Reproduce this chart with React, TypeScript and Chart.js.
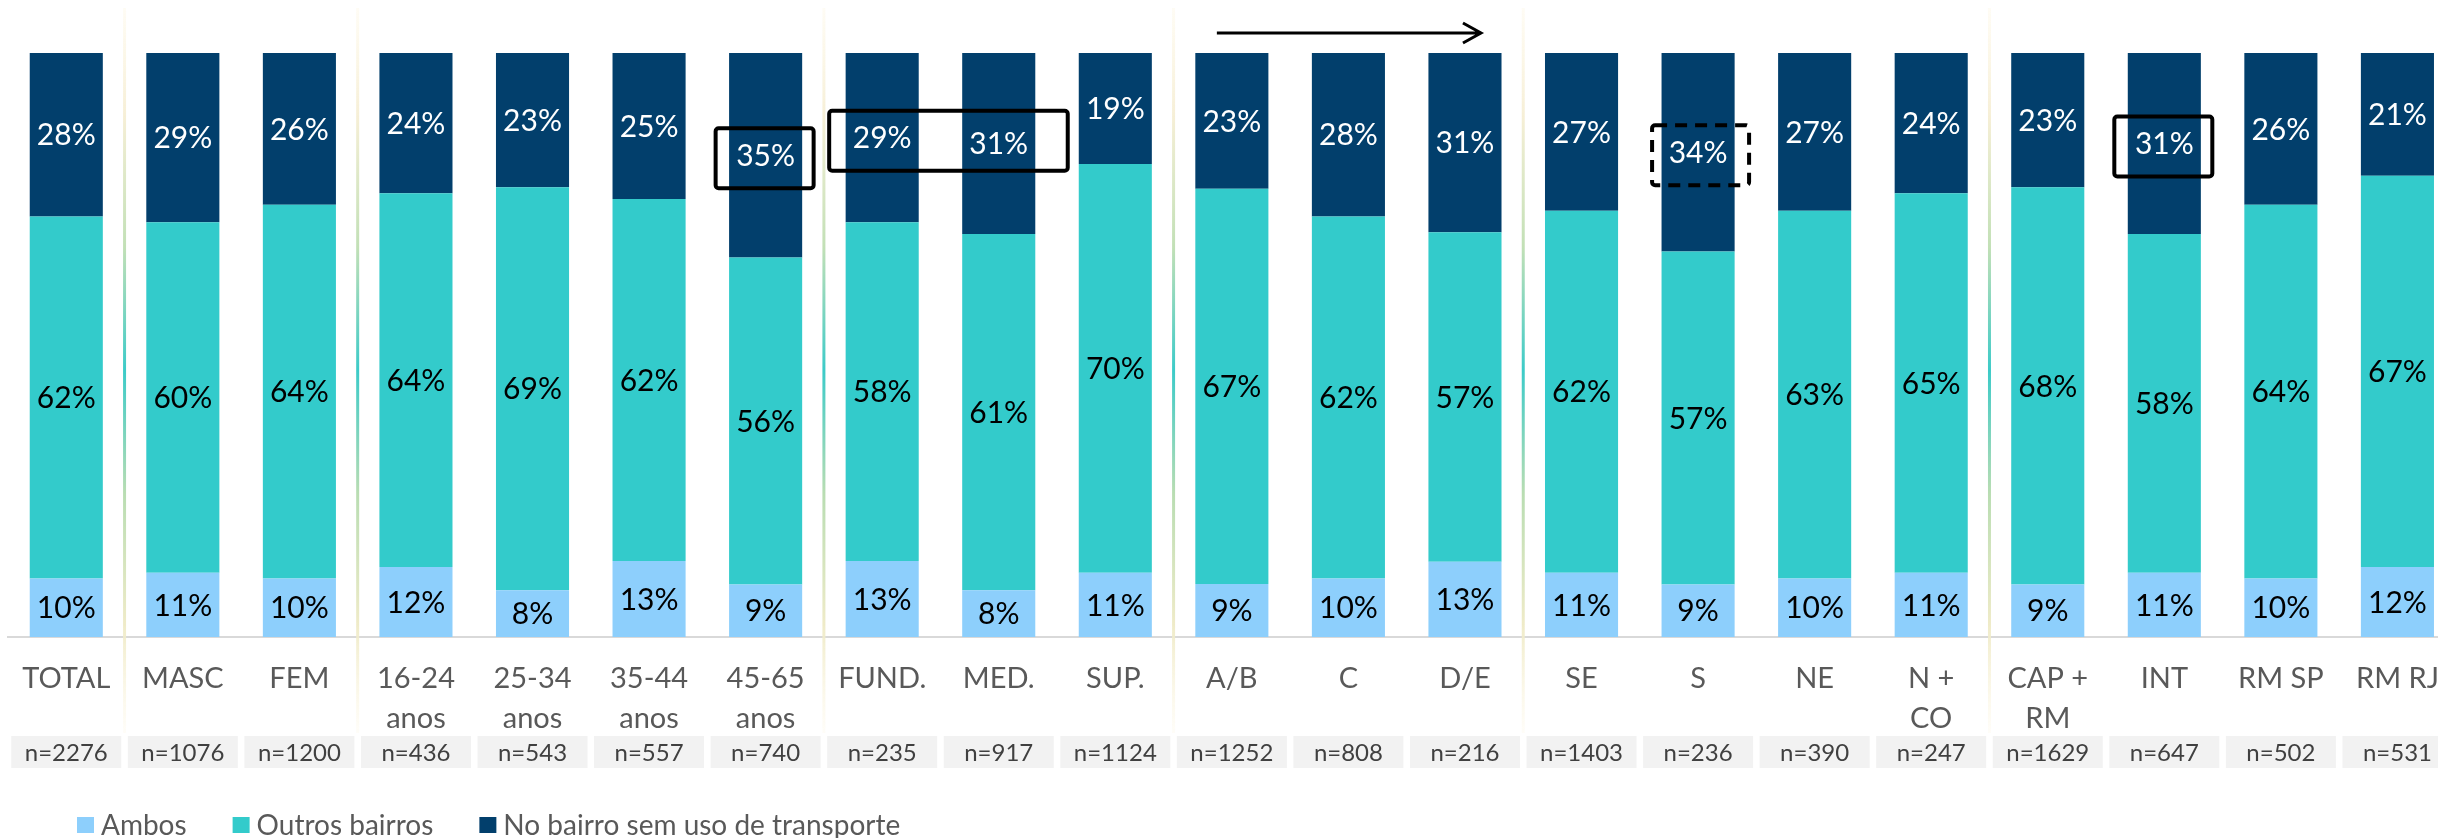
import React, { useEffect, useRef } from "react";
import { Chart, registerables } from "chart.js";

Chart.register(...registerables);

const categories: (string | string[])[] = [
  "TOTAL", "MASC", "FEM",
  ["16-24", "anos"], ["25-34", "anos"], ["35-44", "anos"], ["45-65", "anos"],
  "FUND.", "MED.", "SUP.",
  "A/B", "C", "D/E",
  "SE", "S", "NE", ["N +", "CO"],
  ["CAP +", "RM"], "INT", "RM SP", "RM RJ",
];
const ambos = [10, 11, 10, 12, 8, 13, 9, 13, 8, 11, 9, 10, 13, 11, 9, 10, 11, 9, 11, 10, 12];
const outrosBairros = [62, 60, 64, 64, 69, 62, 56, 58, 61, 70, 67, 62, 57, 62, 57, 63, 65, 68, 58, 64, 67];
const noBairro = [28, 29, 26, 24, 23, 25, 35, 29, 31, 19, 23, 28, 31, 27, 34, 27, 24, 23, 31, 26, 21];
const sampleSizes = [2276, 1076, 1200, 436, 543, 557, 740, 235, 917, 1124, 1252, 808, 216, 1403, 236, 390, 247, 1629, 647, 502, 531];
const seriesNames = ["Ambos", "Outros bairros", "No bairro sem uso de transporte"];
const seriesColors = ["#8DCFFC", "#33CBCB", "#023F6C"];
const labelColors = ["#000000", "#000000", "#FFFFFF"];
const groupEnds = [0, 2, 6, 9, 12, 16];
const highlights = [
  { from: 6, to: 6, dashed: false, padL: 50, padR: 48 },
  { from: 7, to: 8, dashed: false, padL: 53, padR: 69 },
  { from: 14, to: 14, dashed: true, padL: 46, padR: 51 },
  { from: 18, to: 18, dashed: false, padL: 50, padR: 48 },
];
const arrowFrom = 10;
const arrowTo = 12;

const FONT = 'Lato, "Liberation Sans", sans-serif';

const rawSeries = [ambos, outrosBairros, noBairro];
const totals = ambos.map((_, i) => ambos[i] + outrosBairros[i] + noBairro[i]);
const normalized = rawSeries.map((s) => s.map((v, i) => (v / totals[i]) * 100));

const overlayPlugin = {
  id: "overlay",
  beforeDatasetsDraw(chart: any) {
    const ctx = chart.ctx;
    const xs = chart.scales.x;
    ctx.save();
    groupEnds.forEach((i) => {
      const x = (xs.getPixelForValue(i) + xs.getPixelForValue(i + 1)) / 2;
      const g = ctx.createLinearGradient(0, 8, 0, 733);
      g.addColorStop(0, "rgba(252,244,220,0.3)");
      g.addColorStop(0.15, "#F6EFD6");
      g.addColorStop(0.33, "#C2E0B6");
      g.addColorStop(0.5, "#3CCBC8");
      g.addColorStop(0.67, "#B9DDB2");
      g.addColorStop(0.85, "#EFEBC8");
      g.addColorStop(1, "rgba(252,244,220,0.2)");
      ctx.strokeStyle = g;
      ctx.lineWidth = 3;
      ctx.beginPath();
      ctx.moveTo(x, 8);
      ctx.lineTo(x, 733);
      ctx.stroke();
    });
    ctx.restore();
  },
  afterDatasetsDraw(chart: any) {
    const ctx = chart.ctx;
    const xs = chart.scales.x;
    ctx.save();
    // value labels
    ctx.font = `30px ${FONT}`;
    ctx.textAlign = "center";
    ctx.textBaseline = "middle";
    rawSeries.forEach((series, d) => {
      const meta = chart.getDatasetMeta(d);
      meta.data.forEach((el: any, i: number) => {
        ctx.fillStyle = labelColors[d];
        ctx.fillText(series[i] + "%", el.x, (el.y + el.base) / 2 + 1);
      });
    });
    // highlight rectangles
    const topMeta = chart.getDatasetMeta(2);
    highlights.forEach((h) => {
      const a = topMeta.data[h.from];
      const yc = (a.y + a.base) / 2;
      const x1 = xs.getPixelForValue(h.from) - h.padL;
      const x2 = xs.getPixelForValue(h.to) + h.padR;
      ctx.strokeStyle = "#000";
      ctx.lineWidth = 4;
      ctx.setLineDash(h.dashed ? [12, 8] : []);
      ctx.beginPath();
      ctx.roundRect(x1, yc - 27, x2 - x1, 60, 3);
      ctx.stroke();
    });
    ctx.setLineDash([]);
    // arrow
    const ax1 = xs.getPixelForValue(arrowFrom) - 15;
    const ax2 = xs.getPixelForValue(arrowTo) + 16;
    const ay = 33;
    ctx.lineWidth = 3;
    ctx.strokeStyle = "#000";
    ctx.beginPath();
    ctx.moveTo(ax1, ay);
    ctx.lineTo(ax2, ay);
    ctx.moveTo(ax2 - 18, ay - 10);
    ctx.lineTo(ax2, ay);
    ctx.lineTo(ax2 - 18, ay + 10);
    ctx.stroke();
    ctx.restore();
  },
  afterDraw(chart: any) {
    const ctx = chart.ctx;
    const xs = chart.scales.x;
    ctx.save();
    // n= boxes
    ctx.font = `24px ${FONT}`;
    ctx.textAlign = "center";
    ctx.textBaseline = "middle";
    sampleSizes.forEach((n, i) => {
      const cx = xs.getPixelForValue(i);
      ctx.fillStyle = "#F2F2F2";
      ctx.fillRect(cx - 55, 736, 110, 32);
      ctx.fillStyle = "#404040";
      ctx.fillText("n=" + n, cx, 753);
    });
    // legend
    ctx.font = `28px ${FONT}`;
    ctx.textAlign = "left";
    let x = 77;
    seriesNames.forEach((name, d) => {
      ctx.fillStyle = seriesColors[d];
      ctx.fillRect(x, 817, 17, 16);
      ctx.fillStyle = "#595959";
      ctx.fillText(name, x + 24, 826);
      x += 24 + ctx.measureText(name).width + 46;
    });
    ctx.restore();
  },
};

export default function App() {
  const ref = useRef<HTMLCanvasElement | null>(null);
  useEffect(() => {
    if (!ref.current) return;
    const chart = new Chart(ref.current, {
      type: "bar",
      data: {
        labels: categories as any,
        datasets: seriesNames.map((name, d) => ({
          label: name,
          data: normalized[d],
          backgroundColor: seriesColors[d],
          borderWidth: 0,
          categoryPercentage: 1,
          barPercentage: 0.627,
        })),
      },
      options: {
        animation: false,
        responsive: false,
        devicePixelRatio: 1,
        layout: { padding: { left: 8, right: 4, top: 53, bottom: 0 } },
        plugins: { legend: { display: false }, tooltip: { enabled: false } },
        scales: {
          x: {
            stacked: true,
            grid: { display: false, drawTicks: false },
            border: { display: true, color: "#D9D9D9", width: 2 },
            ticks: {
              autoSkip: false,
              maxRotation: 0,
              minRotation: 0,
              padding: 21,
              color: "#595959",
              font: { family: FONT, size: 29, lineHeight: 1.4 },
            },
            afterFit: (s: any) => {
              s.height = 201;
            },
          },
          y: {
            stacked: true,
            display: false,
            min: 0,
            max: 100,
          },
        },
      },
      plugins: [overlayPlugin],
    });
    return () => chart.destroy();
  }, []);
  return (
    <div
      style={{
        position: "fixed",
        top: 0,
        left: 0,
        width: 2438,
        height: 838,
        overflow: "hidden",
        background: "#fff",
      }}
    >
      <canvas ref={ref} width={2460} height={838} style={{ width: 2460, height: 838, display: "block" }} />
    </div>
  );
}
